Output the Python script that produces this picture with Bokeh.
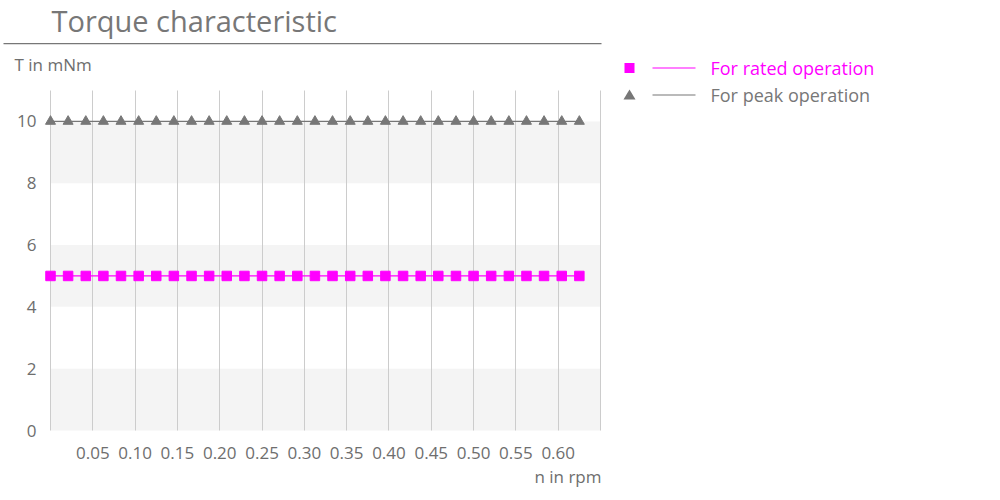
from bokeh.plotting import figure
from bokeh.models import (FixedTicker, NumeralTickFormatter, Label, BoxAnnotation,
                          PolyAnnotation, Range1d)
from bokeh.embed import file_html
from bokeh.resources import INLINE

# ---- data ----
speed = [0.0, 0.0208, 0.0417, 0.0625, 0.0833, 0.1042, 0.125, 0.1458, 0.1667, 0.1875,
         0.2083, 0.2292, 0.25, 0.2708, 0.2917, 0.3125, 0.3333, 0.3542, 0.375, 0.3958,
         0.4167, 0.4375, 0.4583, 0.4792, 0.5, 0.5208, 0.5417, 0.5625, 0.5833, 0.6042,
         0.625]
rated_torque = [5, 5, 5, 5, 5, 5, 5, 5, 5, 5, 5, 5, 5, 5, 5, 5,
                5, 5, 5, 5, 5, 5, 5, 5, 5, 5, 5, 5, 5, 5, 5]
peak_torque = [10, 10, 10, 10, 10, 10, 10, 10, 10, 10, 10, 10, 10, 10, 10, 10,
               10, 10, 10, 10, 10, 10, 10, 10, 10, 10, 10, 10, 10, 10, 10]
x_ticks = [0.05, 0.10, 0.15, 0.20, 0.25, 0.30, 0.35, 0.40, 0.45, 0.50, 0.55, 0.60]
x_grid = [0.0, 0.05, 0.10, 0.15, 0.20, 0.25, 0.30, 0.35, 0.40, 0.45, 0.50, 0.55, 0.60, 0.65]
y_ticks = [0, 2, 4, 6, 8, 10]
band_bottoms = [0, 4, 8]
band_height = 2
x_min, x_max = 0.0, 0.65
y_min, y_max = 0.0, 11.0

title_text = "Torque characteristic"
x_title = "n in rpm"
y_title = "T in mNm"
series_names = ["For rated operation", "For peak operation"]

MAGENTA = "#ff00ff"
GRAY = "#777777"
TXT = "#6e6e6e"
FONT = "Open Sans"

# ---- layout (pixels) ----
W, H = 990, 490
PL, PR, PT, PB = 50, 600, 90, 430   # plot area in page pixels

xs_per_px = (x_max - x_min) / (PR - PL)
ys_per_px = (y_max - y_min) / (PB - PT)
x_range = Range1d(x_min - PL * xs_per_px, x_min + (W - PL) * xs_per_px)
y_range = Range1d(y_min - (H - PB) * ys_per_px, y_min + PB * ys_per_px)

p = figure(width=W, height=H, min_border=0,
           x_range=x_range, y_range=y_range,
           output_backend="svg", toolbar_location=None)
p.outline_line_color = None
p.background_fill_color = "white"
p.border_fill_color = "white"

for ax in (p.xaxis[0], p.yaxis[0]):
    ax.fixed_location = 0
    ax.axis_line_color = None
    ax.major_tick_line_color = None
    ax.minor_tick_line_color = None
    ax.major_tick_out = 0
    ax.major_tick_in = 0
    ax.minor_tick_out = 0
    ax.minor_tick_in = 0
    ax.major_label_text_font = FONT
    ax.major_label_text_color = TXT
    ax.major_label_text_font_size = "17px"

p.xaxis.ticker = FixedTicker(ticks=x_ticks)
p.xaxis.formatter = NumeralTickFormatter(format="0.00")
p.xaxis.major_label_standoff = 16
p.yaxis.ticker = FixedTicker(ticks=y_ticks)
p.yaxis.formatter = NumeralTickFormatter(format="0")
p.yaxis.major_label_standoff = 14

# shaded bands (drawn beneath the grid lines)
for b in band_bottoms:
    p.add_layout(BoxAnnotation(left=x_min, right=x_max, bottom=b, top=b + band_height,
                               fill_color="#f4f4f4", fill_alpha=1, line_color=None,
                               level="image"))

p.ygrid.grid_line_color = None
xg = p.xgrid[0]
xg.ticker = FixedTicker(ticks=x_grid)
xg.grid_line_color = "#cccccc"
xg.grid_line_width = 1
xg.level = "underlay"
if "cross_bounds" in xg.properties():
    xg.cross_bounds = (y_min, y_max)
    grid_done = True
else:
    grid_done = False
if not grid_done:
    xg.grid_line_color = None
    p.segment(x0=x_grid, x1=x_grid, y0=[y_min] * len(x_grid), y1=[y_max] * len(x_grid),
              line_color="#cccccc", line_width=1)

p.line(speed, peak_torque, line_color=GRAY, line_width=1.3)
p.scatter(speed, peak_torque, marker="triangle", size=10, fill_color=GRAY, line_color=GRAY)
p.line(speed, rated_torque, line_color=MAGENTA, line_width=1.3)
p.scatter(speed, rated_torque, marker="square", size=9.5, fill_color=MAGENTA, line_color=MAGENTA)

# screen helpers: page pixels -> frame screen units (y from bottom)
def sx(ix):
    return ix

def sy(iy):
    return H - iy

def label(x, y, text, size, color, align="left"):
    p.add_layout(Label(x=sx(x), y=sy(y), x_units="screen", y_units="screen", text=text,
                       text_font=FONT, text_font_size=size, text_color=color,
                       text_baseline="middle", text_align=align))

def box(l, r, t, b, color):
    p.add_layout(BoxAnnotation(left=sx(l), right=sx(r), top=sy(t), bottom=sy(b),
                               left_units="screen", right_units="screen", top_units="screen",
                               bottom_units="screen", fill_color=color, fill_alpha=1,
                               line_color=None))

label(51, 20, title_text, "29px", GRAY)
box(3, 601, 42.5, 43.8, GRAY)
label(14, 64, y_title, "17px", TXT)
label(601, 476, x_title, "17px", TXT, align="right")

# legend
legend_colors = [MAGENTA, GRAY]
legend_rows = [67.5, 94.5]
for name, col, ry in zip(series_names, legend_colors, legend_rows):
    if col == MAGENTA:
        box(624, 634, ry - 5, ry + 5, col)
    else:
        p.add_layout(PolyAnnotation(xs=[sx(623), sx(635), sx(629)],
                                    ys=[sy(ry + 4.5), sy(ry + 4.5), sy(ry - 5.5)],
                                    xs_units="screen", ys_units="screen",
                                    fill_color=col, fill_alpha=1, line_color=None))
    box(652, 695, ry - 0.5, ry + 0.5, col)
    label(710, ry, name, "18px", col)

open("out.html", "w").write(file_html(p, INLINE))
